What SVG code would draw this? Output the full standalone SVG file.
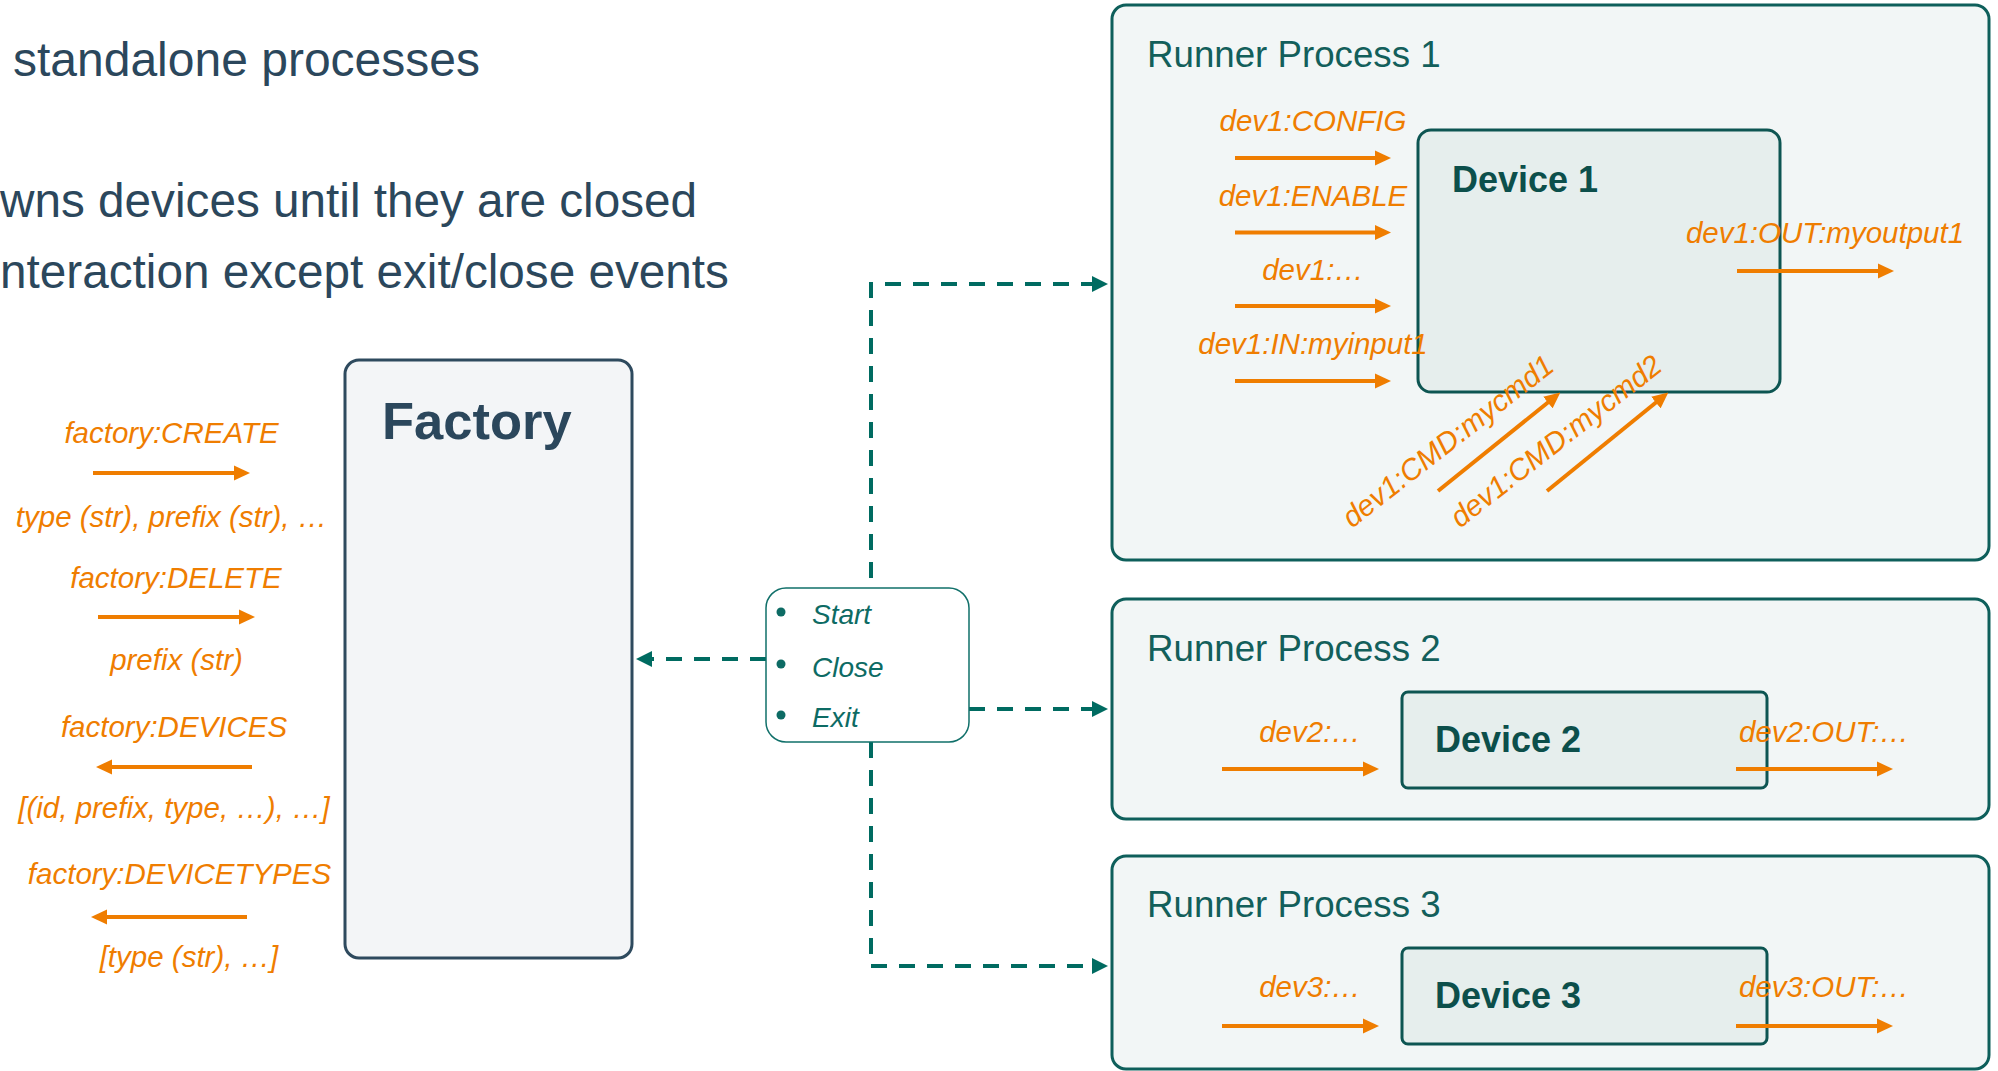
<svg xmlns="http://www.w3.org/2000/svg" width="1998" height="1071" viewBox="0 0 1998 1071">
<style>
  .head{font-family:"Liberation Sans",Arial,sans-serif;font-size:47.7px;fill:#2b475c}
  .lbl{font-family:"Liberation Sans",Arial,sans-serif;font-size:29.5px;font-style:italic;fill:#ef7d00}
  .runner{fill:#f2f6f6;stroke:#0e5f5b;stroke-width:3}
  .rtitle{font-family:"Liberation Sans",Arial,sans-serif;font-size:36.7px;fill:#135f5b}
  .dev{fill:#e6eeed;stroke:#0d5552;stroke-width:3}
  .dtitle{font-family:"Liberation Sans",Arial,sans-serif;font-size:36px;font-weight:bold;fill:#0c4f4b}
  .oa{stroke:#ef7d00;stroke-width:4;fill:none}
  .ta{stroke:#006b61;stroke-width:4;fill:none;stroke-dasharray:16 12}
  .ev{font-family:"Liberation Sans",Arial,sans-serif;font-size:28px;font-style:italic;fill:#0d6b64}
</style>
<defs>
  <marker id="ao" markerUnits="userSpaceOnUse" markerWidth="16" markerHeight="16" refX="4" refY="8" orient="auto">
    <path d="M0,0.5 L16,8 L0,15.5 z" fill="#ef7d00"/>
  </marker>
  <marker id="at" markerUnits="userSpaceOnUse" markerWidth="16" markerHeight="16" refX="4" refY="8" orient="auto">
    <path d="M0,0 L16,8 L0,16 z" fill="#006b61"/>
  </marker>
</defs>
<rect width="1998" height="1071" fill="#ffffff"/>

<g id="heading">
  <text class="head" x="13" y="76" style="font-size:48px">standalone processes</text>
  <text class="head" x="0" y="217">wns devices until they are closed</text>
  <text class="head" x="0" y="288">nteraction except exit/close events</text>
</g>

<g id="factory">
  <rect x="345" y="360" width="287" height="598" rx="14" fill="#f3f5f7" stroke="#2e4a5e" stroke-width="3"/>
  <text x="382" y="439" font-family="Liberation Sans, Arial, sans-serif" font-size="52.5" font-weight="bold" fill="#2b475c">Factory</text>
</g>

<g id="factory-messages">
  <text class="lbl" x="171.5" y="443" text-anchor="middle">factory:CREATE</text>
  <line class="oa" x1="93" y1="473" x2="238" y2="473" marker-end="url(#ao)"/>
  <text class="lbl" x="171.5" y="527" text-anchor="middle">type (str), prefix (str), …</text>
  <text class="lbl" x="176" y="588" text-anchor="middle">factory:DELETE</text>
  <line class="oa" x1="98" y1="617" x2="243" y2="617" marker-end="url(#ao)"/>
  <text class="lbl" x="176.5" y="670" text-anchor="middle">prefix (str)</text>
  <text class="lbl" x="174" y="737" text-anchor="middle">factory:DEVICES</text>
  <line class="oa" x1="252" y1="767" x2="108" y2="767" marker-end="url(#ao)"/>
  <text class="lbl" x="174" y="818" text-anchor="middle">[(id, prefix, type, …), …]</text>
  <text class="lbl" x="179.5" y="884" text-anchor="middle">factory:DEVICETYPES</text>
  <line class="oa" x1="247" y1="917" x2="103" y2="917" marker-end="url(#ao)"/>
  <text class="lbl" x="189" y="967" text-anchor="middle">[type (str), …]</text>
</g>

<g id="connectors">
  <path class="ta" d="M871,578 L871,284 L1096,284" marker-end="url(#at)"/>
  <path class="ta" d="M871,742 L871,966 L1096,966" marker-end="url(#at)"/>
  <path class="ta" d="M969,709 L1096,709" marker-end="url(#at)"/>
  <path class="ta" d="M766,659 L648,659" marker-end="url(#at)"/>
</g>

<g id="events">
  <rect x="766" y="588" width="203" height="154" rx="20" fill="#ffffff" stroke="#11706a" stroke-width="1.5"/>
  <circle cx="781" cy="612" r="4.5" fill="#0d6b64"/>
  <circle cx="781" cy="664" r="4.5" fill="#0d6b64"/>
  <circle cx="781" cy="715" r="4.5" fill="#0d6b64"/>
  <text class="ev" x="812" y="624">Start</text>
  <text class="ev" x="812" y="677">Close</text>
  <text class="ev" x="812" y="727">Exit</text>
</g>

<g id="runner1">
  <rect class="runner" x="1112" y="5" width="877" height="555" rx="14"/>
  <text class="rtitle" x="1147" y="67">Runner Process 1</text>
  <g id="device1">
    <rect class="dev" x="1418" y="130" width="362" height="262" rx="13"/>
    <text class="dtitle" x="1452" y="192">Device 1</text>
  </g>
  <text class="lbl" x="1313" y="131" text-anchor="middle">dev1:CONFIG</text>
  <line class="oa" x1="1235" y1="158" x2="1379" y2="158" marker-end="url(#ao)"/>
  <text class="lbl" x="1313" y="206" text-anchor="middle">dev1:ENABLE</text>
  <line class="oa" x1="1235" y1="232.5" x2="1379" y2="232.5" marker-end="url(#ao)"/>
  <text class="lbl" x="1313" y="280" text-anchor="middle">dev1:…</text>
  <line class="oa" x1="1235" y1="306" x2="1379" y2="306" marker-end="url(#ao)"/>
  <text class="lbl" x="1313" y="354" text-anchor="middle">dev1:IN:myinput1</text>
  <line class="oa" x1="1235" y1="381" x2="1379" y2="381" marker-end="url(#ao)"/>
  <text class="lbl" x="1825" y="243" text-anchor="middle">dev1:OUT:myoutput1</text>
  <line class="oa" x1="1737" y1="271" x2="1882" y2="271" marker-end="url(#ao)"/>
  <line class="oa" x1="1438" y1="491" x2="1551" y2="400" marker-end="url(#ao)"/>
  <line class="oa" x1="1547" y1="491" x2="1659" y2="400" marker-end="url(#ao)"/>
  <text class="lbl" x="1454" y="449" text-anchor="middle" transform="rotate(-38 1454 449)">dev1:CMD:mycmd1</text>
  <text class="lbl" x="1562" y="449" text-anchor="middle" transform="rotate(-38 1562 449)">dev1:CMD:mycmd2</text>
</g>

<g id="runner2">
  <rect class="runner" x="1112" y="599" width="877" height="220" rx="14"/>
  <text class="rtitle" x="1147" y="661">Runner Process 2</text>
  <g id="device2">
    <rect class="dev" x="1402" y="692" width="365" height="96" rx="6"/>
    <text class="dtitle" x="1435" y="752">Device 2</text>
  </g>
  <text class="lbl" x="1310" y="742" text-anchor="middle">dev2:…</text>
  <line class="oa" x1="1222" y1="769" x2="1367" y2="769" marker-end="url(#ao)"/>
  <text class="lbl" x="1824" y="742" text-anchor="middle">dev2:OUT:…</text>
  <line class="oa" x1="1736" y1="769" x2="1881" y2="769" marker-end="url(#ao)"/>
</g>

<g id="runner3">
  <rect class="runner" x="1112" y="856" width="877" height="213" rx="14"/>
  <text class="rtitle" x="1147" y="917">Runner Process 3</text>
  <g id="device3">
    <rect class="dev" x="1402" y="948" width="365" height="96" rx="6"/>
    <text class="dtitle" x="1435" y="1008">Device 3</text>
  </g>
  <text class="lbl" x="1310" y="997" text-anchor="middle">dev3:…</text>
  <line class="oa" x1="1222" y1="1026" x2="1367" y2="1026" marker-end="url(#ao)"/>
  <text class="lbl" x="1824" y="997" text-anchor="middle">dev3:OUT:…</text>
  <line class="oa" x1="1736" y1="1026" x2="1881" y2="1026" marker-end="url(#ao)"/>
</g>
</svg>
